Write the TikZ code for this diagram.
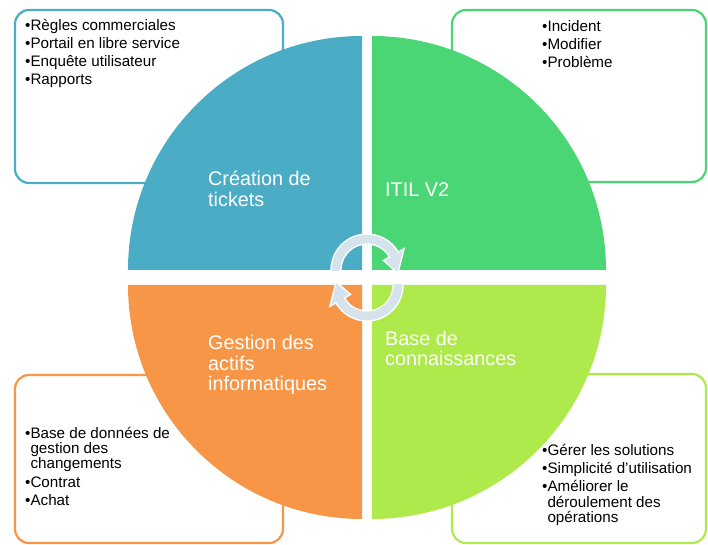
\documentclass[tikz,border=0pt]{standalone}
\usepackage{fontspec}
\setmainfont{Liberation Sans}
\definecolor{cblue}{RGB}{75,172,198}
\definecolor{cgreen}{RGB}{74,214,117}
\definecolor{corange}{RGB}{247,150,70}
\definecolor{clime}{RGB}{174,234,75}
\definecolor{carrow}{RGB}{213,228,236}
\begin{document}
\begin{tikzpicture}[x=1pt,y=1pt,
  card/.style={line width=2.2pt, rounded corners=14pt, fill=white},
  small/.style={anchor=base west, inner sep=0pt, font=\fontsize{15.2}{18}\selectfont, text=black},
  big/.style={anchor=base west, inner sep=0pt, font=\fontsize{19.8}{21}\selectfont, text=white},
  cyc/.style={fill=carrow, draw=white, line width=1.3pt, line join=miter}]
\useasboundingbox (0,0) rectangle (708,545);

% cards
\draw[card, draw=cblue]   (15,535) rectangle (283,362);
\draw[card, draw=cgreen]  (452,535) rectangle (706,363);
\draw[card, draw=corange] (15,170) rectangle (283,2);
\draw[card, draw=clime]   (452,171) rectangle (706,2);

% quadrants
\fill[cblue]   (362,275) -- (128,275) arc[start angle=180, end angle=90, radius=234] -- cycle;
\fill[cgreen]  (372,275) -- (372,509) arc[start angle=90, end angle=0, radius=234] -- cycle;
\fill[corange] (362,260) -- (128,260) arc[start angle=180, end angle=270, radius=234] -- cycle;
\fill[clime]   (372,260) -- (372,26) arc[start angle=270, end angle=360, radius=234] -- cycle;

% cycle arrows
\begin{scope}[shift={(367,275)}]
  \path[cyc] (183:36) arc[start angle=183, end angle=30, radius=36]
    -- (30:43) -- (-6:31) -- (30:19) -- (30:26)
    arc[start angle=30, end angle=183, radius=26] -- cycle;
\end{scope}
\begin{scope}[shift={(367,260)}]
  \path[cyc] (3:36) arc[start angle=3, end angle=-150, radius=36]
    -- (210:43) -- (174:31) -- (210:19) -- (210:26)
    arc[start angle=-150, end angle=3, radius=26] -- cycle;
\end{scope}

% quadrant labels
\node[big] (t1a) at (208,359) {Création de};
\node[big] (t1b) at (208,338) {tickets};
\node[big] (t2)  at (385,348) {ITIL V2};
\node[big] (t3a) at (208,195) {Gestion des};
\node[big] (t3b) at (208,174) {actifs};
\node[big] (t3c) at (208,154) {informatiques};
\node[big] (t4a) at (385,199) {Base de};
\node[big] (t4b) at (385,179) {connaissances};

% card texts
\node[small] (a1) at (25,514) {\textbullet Règles commerciales};
\node[small] (a2) at (25,496) {\textbullet Portail en libre service};
\node[small] (a3) at (25,478) {\textbullet Enquête utilisateur};
\node[small] (a4) at (25,460) {\textbullet Rapports};

\node[small] (b1) at (542,513) {\textbullet Incident};
\node[small] (b2) at (542,495) {\textbullet Modifier};
\node[small] (b3) at (542,477) {\textbullet Problème};

\node[small] (c1) at (25,106) {\textbullet Base de données de};
\node[small] (c2) at (25,91)  {\phantom{\textbullet}gestion des};
\node[small] (c3) at (25,76)  {\phantom{\textbullet}changements};
\node[small] (c4) at (25,57)  {\textbullet Contrat};
\node[small] (c5) at (25,39)  {\textbullet Achat};

\node[small] (d1) at (542,89) {\textbullet Gérer les solutions};
\node[small] (d2) at (542,71) {\textbullet Simplicité d'utilisation};
\node[small] (d3) at (542,53) {\textbullet Améliorer le};
\node[small] (d4) at (542,37) {\phantom{\textbullet}déroulement des};
\node[small] (d5) at (542,22) {\phantom{\textbullet}opérations};
\end{tikzpicture}
\end{document}
